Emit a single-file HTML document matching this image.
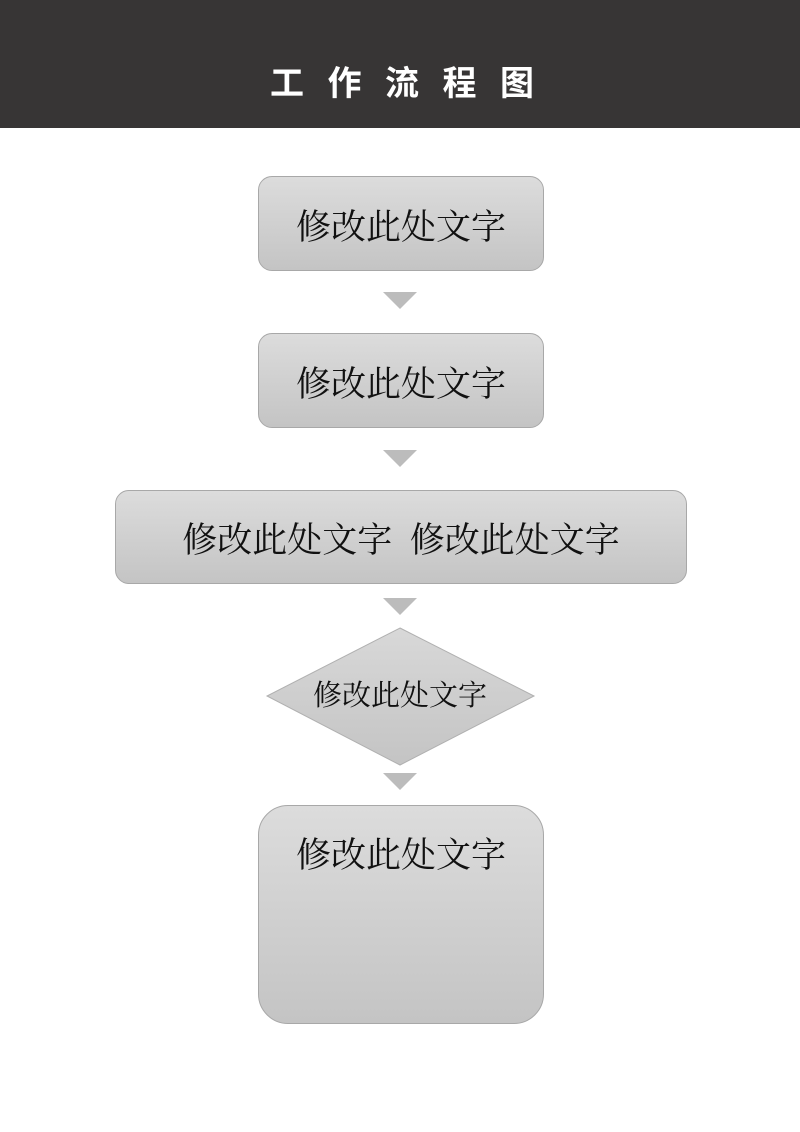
<!DOCTYPE html>
<html><head><meta charset="utf-8"><style>
body{margin:0;width:800px;height:1132px;background:#fff;position:relative;overflow:hidden}
.hd{position:absolute;left:0;top:0;width:800px;height:128px;background:#373535}
.t{position:absolute;left:270px;top:62px;font:bold 34px "Liberation Sans","Noto Sans CJK SC",sans-serif;color:#fff;letter-spacing:23.5px;line-height:44px;white-space:nowrap}
.b{position:absolute;box-sizing:border-box;border:1px solid #a8a8a8;background:linear-gradient(#dcdcdc,#c4c4c4);border-radius:14px;font:35px "Liberation Serif","Noto Serif CJK SC",serif;color:#111;text-align:center;white-space:nowrap}
.tri{position:absolute;width:0;height:0;border-left:17px solid transparent;border-right:17px solid transparent;border-top:17px solid #bcbcbc}
</style></head><body>
<div class="hd"></div><div class="t">工作流程图</div>
<div class="b" style="left:258px;top:176px;width:286px;height:95px;line-height:101px">修改此处文字</div>
<div class="tri" style="left:383px;top:292px"></div>
<div class="b" style="left:258px;top:333px;width:286px;height:95px;line-height:101px">修改此处文字</div>
<div class="tri" style="left:383px;top:450px"></div>
<div class="b" style="left:115px;top:490px;width:572px;height:94px;line-height:100px">修改此处文字&nbsp;&nbsp;修改此处文字</div>
<div class="tri" style="left:383px;top:598px"></div>
<svg style="position:absolute;left:0;top:0" width="800" height="1132">
<defs><linearGradient id="g" x1="0" y1="0" x2="0" y2="1"><stop offset="0" stop-color="#d8d8d8"/><stop offset="1" stop-color="#c4c4c4"/></linearGradient></defs>
<polygon points="400,628 534,696 400,765 267,696" fill="url(#g)" stroke="#b0b0b0"/>
<text x="400" y="705" text-anchor="middle" font-family="Liberation Serif, Noto Serif CJK SC, serif" font-size="29" fill="#111">修改此处文字</text>
</svg>
<div class="tri" style="left:383px;top:773px"></div>
<div class="b" style="left:258px;top:805px;width:286px;height:219px;border-radius:30px;line-height:36px;padding-top:32px">修改此处文字</div>
</body></html>
